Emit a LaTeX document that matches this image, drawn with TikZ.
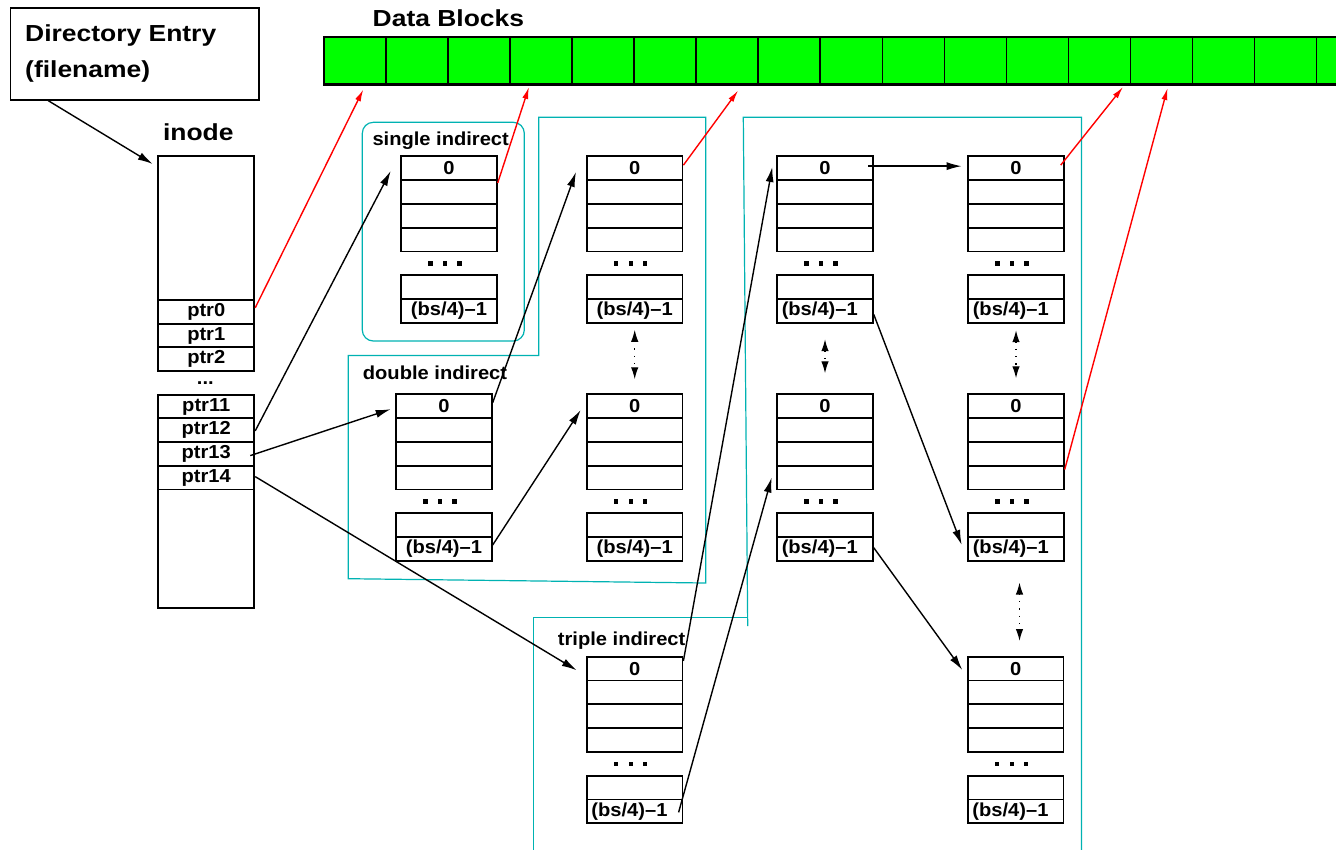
\documentclass[tikz,border=0pt]{standalone}
\usepackage{fontspec}
\setmainfont{Liberation Sans}
\newfontfamily\bigf{Liberation Sans}[FakeStretch=1.14]
\newfontfamily\smf{Liberation Sans}[FakeStretch=1.07]
\usetikzlibrary{arrows.meta,calc}
\definecolor{cy}{RGB}{0,178,178}
\definecolor{dgreen}{RGB}{0,255,0}
\tikzset{
  bigtxt/.style={font=\bigf\bfseries\fontsize{23.2}{26}\selectfont, inner sep=0},
  smtxt/.style={font=\smf\bfseries\fontsize{18.8}{20}\selectfont, inner sep=0},
  row/.style={draw, line width=1.9pt, minimum width=95.5pt, minimum height=23.8pt, inner sep=0, anchor=north west, smtxt},
  lft/.style={inner xsep=4.5pt, text width=86.5pt, align=left},
  cnt/.style={},
  iptr/.style={draw, line width=1.9pt, minimum width=96pt, minimum height=23.7pt, inner sep=0, anchor=north west, smtxt},
  ibox/.style={draw, line width=1.9pt, minimum width=96pt, inner sep=0, anchor=north west},
  cell/.style={draw, line width=1.5pt, fill=dgreen, minimum width=62.06pt, minimum height=48pt, inner sep=0, anchor=north west},
  arr/.style={line width=1.4pt, -{Latex[length=15pt,width=8pt]}},
  rarr/.style={red, line width=1.4pt, -{Latex[length=12pt,width=6pt]}},
  darr/.style={line width=1.3pt, dash pattern=on 1.3pt off 6pt, {Latex[length=12pt,width=7.5pt]}-{Latex[length=12pt,width=7.5pt]}},
  cyb/.style={cy, line width=1.2pt},
}
\newcommand\mkblock[4]{%
  \node[row] (#1-r1) at (#2,#3) {0};
  \node[row] (#1-r2) at (#2,#3+23.8) {};
  \node[row] (#1-r3) at (#2,#3+47.6) {};
  \node[row] (#1-r4) at (#2,#3+71.4) {};
  \fill (#2+47.75-3-14.5-2.2,#3+108-2.2) rectangle ++(4.4,4.4);
  \fill (#2+47.75-3-2.2,#3+108-2.2) rectangle ++(4.4,4.4);
  \fill (#2+47.75-3+14.5-2.2,#3+108-2.2) rectangle ++(4.4,4.4);
  \node[row] (#1-b1) at (#2,#3+119) {};
  \node[row,#4] (#1-b2) at (#2,#3+142.8) {(bs/4)–1};
}
\begin{document}
\begin{tikzpicture}[x=1pt,y=-1pt]
\useasboundingbox (0,0) rectangle (1336,849);

% cyan region outlines
\draw[cyb, rounded corners=11pt] (362.3,122.3) rectangle (524.3,341);
\draw[cyb] (538.7,117.3) -- (705.7,117.3) -- (705.7,583) -- (348.3,578.7) -- (348.3,355.5) -- (538.7,355.5) -- cycle;
\draw[cyb] (533.3,860) -- (533.3,617.3) -- (747.7,617.3);
\draw[cyb] (747.7,626) -- (743.3,117.3) -- (1081.5,117.3) -- (1081.5,860);

% directory entry
\node[draw, line width=1.7pt, minimum width=248.5pt, minimum height=92pt, inner sep=0, anchor=north west] (dir) at (9.5,7) {};
\node[bigtxt, anchor=base west] (dirt1) at (25,41) {Directory Entry};
\node[bigtxt, anchor=base west] (dirt2) at (25,77) {(filename)};

% data blocks
\node[bigtxt, anchor=base west] (dbt) at (372.5,26.7) {Data Blocks};
\foreach \i in {0,...,16} \node[cell] (db\i) at ({323+62.06*\i},36) {};
\draw[line width=2.4pt] (323,84) -- (1340,84);

% inode
\node[bigtxt, anchor=base] (inodet) at (198.3,140) {inode};
\node[ibox, minimum height=215pt] (inodeA) at (157.3,155) {};
\node[ibox, minimum height=213.3pt] (inodeB) at (157.3,393.7) {};
\node[iptr] (ptr0) at (157.3,299) {ptr0};
\node[iptr] (ptr1) at (157.3,322.7) {ptr1};
\node[iptr] (ptr2) at (157.3,346.4) {ptr2};
\node[smtxt, anchor=base] (pdots) at (205.3,384) {...};
\node[iptr] (ptr11) at (157.3,393.7) {ptr11};
\node[iptr] (ptr12) at (157.3,417.4) {ptr12};
\node[iptr] (ptr13) at (157.3,441.1) {ptr13};
\node[iptr] (ptr14) at (157.3,464.8) {ptr14};

% region labels
\node[smtxt, anchor=base west] (lsingle) at (372.3,145.7) {single indirect};
\node[smtxt, anchor=base west] (ldouble) at (362.7,379) {double indirect};
\node[smtxt, anchor=base west] (ltriple) at (557.7,645) {triple indirect};

% blocks
\mkblock{S}{400.3}{155.3}{cnt}
\mkblock{D1}{395.3}{393.3}{cnt}
\mkblock{D2a}{586}{155.3}{cnt}
\mkblock{D2b}{586}{393.3}{cnt}
\mkblock{T1}{586}{655.7}{lft}
\mkblock{T2a}{776.3}{155.3}{lft}
\mkblock{T2b}{776.3}{393.3}{lft}
\mkblock{T3a}{967.3}{155.3}{lft}
\mkblock{T3b}{967.3}{393.3}{lft}
\mkblock{T3c}{967}{655.7}{lft}

% black connectors
\draw[arr] ($(dir.south west)+(38.8,0)$) -- ($(inodeA.north west)+(-4.6,9)$);
\draw[arr] ($(ptr12.east)+(0,0.7)$) -- ($(S-r1.west)+(-9.6,2.8)$);
\draw[arr] ($(ptr13.east)+(-5,1.7)$) -- ($(D1-r1.west)+(-4.6,3)$);
\draw[arr] ($(ptr14.east)+(0,-1)$) -- ($(T1-r1.west)+(-9.3,1.7)$);
\draw[arr] ($(D1-r1.east)+(0,-3.5)$) -- ($(D2a-r1.west)+(-10,3.8)$);
\draw[arr] ($(D1-b2.east)+(0,-4)$) -- ($(D2b-r1.west)+(-5.3,3.8)$);
\draw[arr] ($(T1-r1.east)+(0,-7.6)$) -- ($(T2a-r1.west)+(-4,-1.2)$);
\draw[arr] ($(T1-b2.east)+(-4.8,1)$) -- ($(T2b-r4.west)+(-4.6,0)$);
\draw[arr] ($(T2a-r1.east)+(-5.3,-2)$) -- ($(T3a-r1.west)+(-5.6,-2)$);
\draw[arr] ($(T2a-b2.east)+(0,3.3)$) -- ($(T3b-b2.west)+(-5.6,-4)$);
\draw[arr] ($(T2b-b2.east)+(0,-1.3)$) -- ($(T3c-r1.west)+(-4.7,1.4)$);

% dotted double arrows
\draw[darr] ($(D2a-b2.south)+(0,6)$) -- ($(D2b-r1.north)+(0,-14)$);
\draw[darr] ($(T2a-b2.south)+(0,15.4)$) -- ($(T2b-r1.north)+(0,-20)$);
\draw[darr] ($(T3a-b2.south)+(0,6.4)$) -- ($(T3b-r1.north)+(0,-15)$);
\draw[darr] ($(T3b-b2.south)+(3.5,20.7)$) -- ($(T3c-r1.north)+(3.8,-14.7)$);

% red connectors to data blocks
\draw[rarr] ($(ptr0.east)+(0,-4)$) -- ($(db0.south)+(8.5,4)$);
\draw[rarr] ($(S-r2.east)+(0,-9)$) -- ($(db3.south)+(-12,1.5)$);
\draw[rarr] ($(D2a-r1.east)+(0,-3)$) -- ($(db6.south)+(11,5)$);
\draw[rarr] ($(T3a-r1.east)+(-4,-3)$) -- ($(db12.south)+(23.5,1.5)$);
\draw[rarr] ($(T3b-r4.east)+(0,-8)$) -- ($(db13.south)+(6,2.5)$);
\end{tikzpicture}
\end{document}
